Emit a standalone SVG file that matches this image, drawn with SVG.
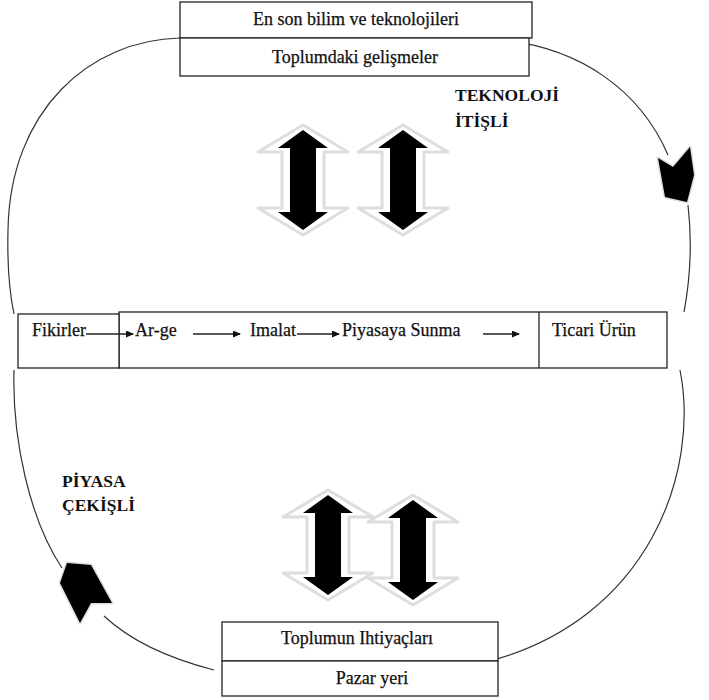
<svg xmlns="http://www.w3.org/2000/svg" width="709" height="700" viewBox="0 0 709 700">
<style>
.box{fill:#fff;stroke:#222;stroke-width:1.3}
.t{font-family:'Liberation Serif','Times New Roman','DejaVu Serif',serif;font-size:18px;fill:#111;stroke:#111;stroke-width:0.25}
.b{font-family:'Liberation Serif','Times New Roman','DejaVu Serif',serif;font-size:17.5px;font-weight:bold;fill:#111}
.curve{fill:none;stroke:#333;stroke-width:1.2}
.flow{stroke:#222;stroke-width:1.3;fill:none}
.shadow{fill:#fff;stroke:#dedede;stroke-width:3;stroke-linejoin:round}
.blk{fill:#000}
</style>
<defs>
<marker id="ah" markerWidth="8" markerHeight="7" refX="7" refY="3.5" orient="auto" markerUnits="userSpaceOnUse">
<polygon points="0,0 8,3.5 0,7" fill="#111"/>
</marker>
<g id="dbl">
<polygon class="shadow" points="0,-5 45,22 21,22 21,78 45,78 0,105 -45,78 -21,78 -21,22 -45,22"/>
<polygon class="blk" points="0,0 25,18 13,18 13,82 25,82 0,100 -25,82 -13,82 -13,18 -25,18"/>
</g>
</defs>
<g id="cycle">
<path class="curve" d="M180,38 C90,40 10,110 8,230 C7,270 10,295 14,314"/>
<path class="curve" d="M502,40 C580,48 640,90 668,155"/>
<path class="curve" d="M688,205 C692,240 690,280 684,312"/>
<path class="curve" d="M14,370 C12,440 30,520 62,568"/>
<path class="curve" d="M104,616 C135,645 175,660 214,670"/>
<path class="curve" d="M680,370 C700,470 650,620 486,662"/>
<polygon class="shadow" points="658,158 673,167 690,147 694,175 687,202 665,197"/>
<polygon class="blk" points="658,158 673,167 690,147 694,175 687,202 665,197"/>
<polygon class="shadow" points="67,563 91,565 112,603 91,603 80,623 60,583"/>
<polygon class="blk" points="67,563 91,565 112,603 91,603 80,623 60,583"/>
</g>
<g id="arrows-top">
<use href="#dbl" x="303" y="130"/>
<use href="#dbl" x="403" y="130"/>
</g>
<g id="arrows-bottom">
<use href="#dbl" x="328" y="495"/>
<use href="#dbl" x="413" y="500"/>
</g>
<g id="node-bilim">
<rect class="box" x="180" y="2" width="352" height="36"/>
<text class="t" x="356" y="25" text-anchor="middle">En son bilim ve teknolojileri</text>
</g>
<g id="node-toplum">
<rect class="box" x="180" y="38" width="349" height="38"/>
<text class="t" x="355" y="63" text-anchor="middle">Toplumdaki gelişmeler</text>
</g>
<g id="label-teknoloji">
<text class="b" x="455" y="101">TEKNOLOJİ</text>
<text class="b" x="455" y="127">İTİŞLİ</text>
</g>
<g id="node-process">
<rect class="box" x="119" y="312" width="548" height="56"/>
<line class="flow" x1="539" y1="312" x2="539" y2="368"/>
<text class="t" x="135" y="336">Ar-ge</text>
<text class="t" x="250" y="336">Imalat</text>
<text class="t" x="342" y="336">Piyasaya Sunma</text>
<text class="t" x="552" y="336">Ticari Ürün</text>
</g>
<g id="node-fikirler">
<rect class="box" x="18" y="314" width="101" height="54"/>
<text class="t" x="32" y="336">Fikirler</text>
</g>
<g id="connectors">
<line class="flow" x1="86" y1="334" x2="133" y2="334" marker-end="url(#ah)"/>
<line class="flow" x1="193" y1="334" x2="240" y2="334" marker-end="url(#ah)"/>
<line class="flow" x1="297" y1="334" x2="339" y2="334" marker-end="url(#ah)"/>
<line class="flow" x1="483" y1="334" x2="519" y2="334" marker-end="url(#ah)"/>
</g>
<g id="label-piyasa">
<text class="b" x="62" y="487">PİYASA</text>
<text class="b" x="62" y="511">ÇEKİŞLİ</text>
</g>
<g id="node-ihtiyac">
<rect class="box" x="222" y="622" width="276" height="39"/>
<text class="t" x="357" y="644" text-anchor="middle">Toplumun Ihtiyaçları</text>
</g>
<g id="node-pazar">
<rect class="box" x="222" y="661" width="276" height="35"/>
<text class="t" x="372" y="684" text-anchor="middle">Pazar yeri</text>
</g>
</svg>
